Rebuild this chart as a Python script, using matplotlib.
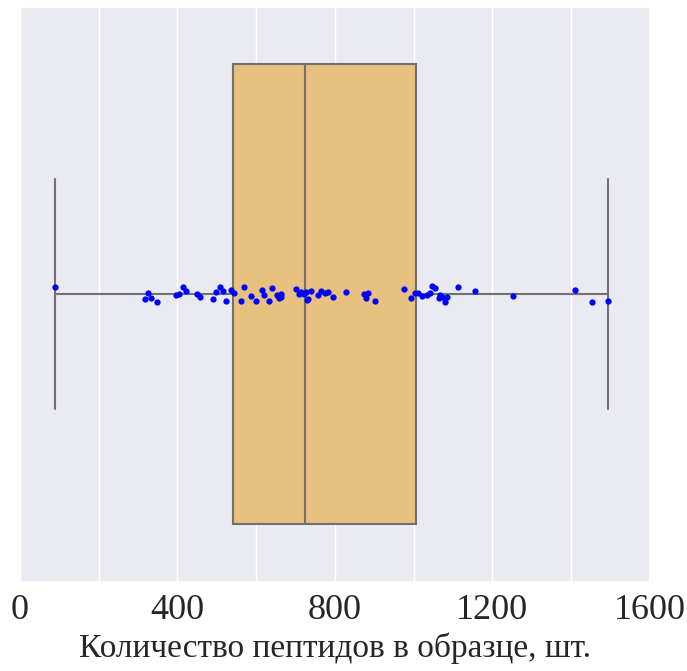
import numpy as np
import matplotlib.pyplot as plt
import seaborn as sns

# number of peptides per sample
peptides = [88, 317, 325, 332, 347, 397, 405, 413, 423, 450, 458,
            490, 499, 507, 515, 524, 535,
            543, 561, 568, 586, 599, 614, 619, 632, 639, 652, 657, 662, 664,
            700, 708, 714, 722,
            726, 728, 732, 740, 757, 765, 775, 782, 795, 828, 875, 880, 883,
            903, 976, 992, 1003,
            1012, 1020, 1034, 1042, 1047, 1054, 1064, 1067, 1072, 1079, 1084,
            1112, 1156, 1252, 1410, 1453, 1494]
tick_values = [0, 400, 800, 1200, 1600]
grid_values = [0, 200, 400, 600, 800, 1000, 1200, 1400, 1600]
xlabel = "Количество пептидов в образце, шт."

sns.set_theme(style="darkgrid")
np.random.seed(7)

fig = plt.figure(figsize=(6.87, 6.71), dpi=100)
ax = fig.add_axes([0.029, 0.133, 0.917, 0.857])

box_color = "#E8C07F"
line_color = "#707070"
ax.boxplot(peptides, orientation="horizontal", positions=[0], widths=0.8,
           patch_artist=True, showfliers=False, whis=1.5,
           boxprops=dict(facecolor=box_color, edgecolor=line_color, linewidth=1.5),
           medianprops=dict(color=line_color, linewidth=1.5),
           whiskerprops=dict(color=line_color, linewidth=1.5),
           capprops=dict(color=line_color, linewidth=1.5))

sns.stripplot(x=peptides, jitter=0.014, color="blue", size=4.5, ax=ax,
              zorder=3, linewidth=0)

ax.set_ylim(0.5, -0.5)
ax.set_yticks([])
ax.set_xlim(0, 1600)
ax.set_xticks(grid_values)
ax.set_xticklabels([str(v) if v in tick_values else "" for v in grid_values],
                   family="Liberation Serif", fontsize=26)
ax.tick_params(axis="x", length=0, pad=9)
ax.grid(axis="x", color="white", linewidth=1)
ax.grid(axis="y", visible=False)
ax.set_xlabel(xlabel, family="Liberation Serif", fontsize=24, labelpad=4)

plt.savefig("out.png", dpi=100)
